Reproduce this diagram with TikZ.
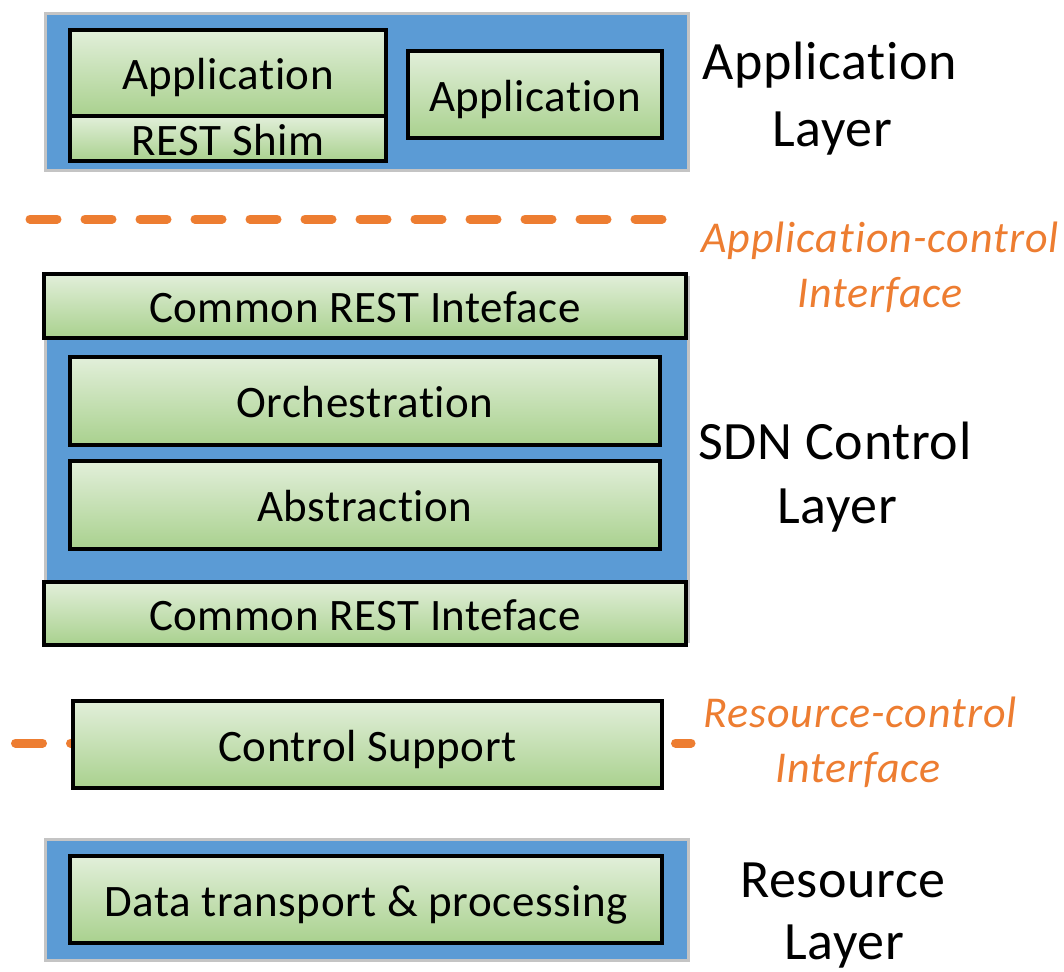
\documentclass[tikz,border=0pt]{standalone}
\usepackage{fontspec}
\setmainfont{Carlito}[LetterSpace=1.2, Ligatures=NoCommon]
\newfontfamily\ifacefont{Carlito}[LetterSpace=2.2, Ligatures=NoCommon]
\definecolor{layerblue}{HTML}{5B9BD5}
\definecolor{layeredge}{HTML}{C4C4C4}
\definecolor{gtop}{HTML}{E2EFDA}
\definecolor{gbot}{HTML}{A9D18E}
\definecolor{ifaceorange}{HTML}{ED7D31}
\begin{document}
\begin{tikzpicture}[x=1pt,y=-1pt,
  layer/.style={rectangle, fill=layerblue, draw=layeredge, line width=3pt, inner sep=0pt},
  gbox/.style={rectangle, draw=black, line width=3.5pt, top color=gtop, bottom color=gbot,
    inner sep=0pt, font=\fontsize{45}{54}\selectfont, text height=33pt, text depth=0pt},
  layerlbl/.style={font=\fontsize{54}{64}\selectfont, anchor=base, inner sep=0pt},
  ifacelbl/.style={font=\ifacefont\itshape\fontsize{44}{54}\selectfont, text=ifaceorange, anchor=base, inner sep=0pt},
  iface/.style={draw=ifaceorange, line width=9pt, line cap=round, dash pattern=on 27pt off 28pt}]
\useasboundingbox (0,0) rectangle (1064,971);

% layer backgrounds
\node[layer, minimum width=643pt, minimum height=157pt] (applayer) at (367,92) {};
\node[layer, minimum width=643pt, minimum height=364pt] (sdnlayer) at (367,459) {};
\node[layer, minimum width=643pt, minimum height=121pt] (reslayer) at (367,900) {};

% interface dashed lines
\coordinate (acA) at (30,219);
\coordinate (acB) at (664,219);
\coordinate (rcA) at (15.5,743);
\coordinate (rcB) at (691,743);
\draw[iface] (acA) -- (acB);
\draw[iface] (rcA) -- (rcB);

% functional boxes
\node[gbox, minimum width=316pt, minimum height=86pt] (app1) at (228,73) {Application};
\node[gbox, minimum width=316pt, minimum height=45pt] (shim) at (228,138.5) {REST Shim};
\node[gbox, minimum width=254pt, minimum height=87pt] (app2) at (535,94.5) {Application};
\node[gbox, minimum width=642pt, minimum height=64pt] (cri1) at (365,306) {Common REST Inteface};
\node[gbox, minimum width=590pt, minimum height=88pt] (orch) at (365,401) {Orchestration};
\node[gbox, minimum width=590pt, minimum height=88pt] (abs) at (365,505) {Abstraction};
\node[gbox, minimum width=642pt, minimum height=63pt] (cri2) at (365,613.5) {Common REST Inteface};
\node[gbox, minimum width=589pt, minimum height=87pt] (ctrl) at (367.5,744.5) {Control Support};
\node[gbox, minimum width=592pt, minimum height=87pt] (data) at (366,899.5) {Data transport \& processing};

% labels
\node[layerlbl] (appL1) at (830,80) {Application};
\node[layerlbl] (appL2) at (832,146) {Layer};
\node[ifacelbl] (acI1) at (880,252) {Application-control};
\node[ifacelbl] (acI2) at (880,307) {Interface};
\node[layerlbl] (sdnL1) at (835,459) {SDN Control};
\node[layerlbl] (sdnL2) at (837,523) {Layer};
\node[ifacelbl] (rcI1) at (860,727) {Resource-control};
\node[ifacelbl] (rcI2) at (858,782) {Interface};
\node[layerlbl] (resL1) at (843,897) {Resource};
\node[layerlbl] (resL2) at (844,959) {Layer};
\end{tikzpicture}
\end{document}
